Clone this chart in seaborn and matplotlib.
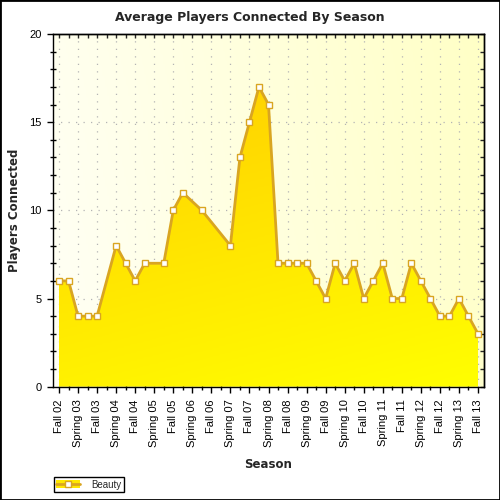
import numpy as np
import seaborn as sns
import matplotlib.pyplot as plt
from matplotlib.colors import LinearSegmentedColormap
from matplotlib.patches import Patch, Rectangle
from matplotlib.lines import Line2D
from matplotlib.ticker import MultipleLocator

# Season labels on the x axis
seasons = ["Fall 02", "Spring 03", "Fall 03", "Spring 04", "Fall 04", "Spring 05",
           "Fall 05", "Spring 06", "Fall 06", "Spring 07", "Fall 07", "Spring 08",
           "Fall 08", "Spring 09", "Fall 09", "Spring 10", "Fall 10", "Spring 11",
           "Fall 11", "Spring 12", "Fall 12", "Spring 13", "Fall 13"]

# position of each sample in season units (x.5 = between two seasons)
term = [0, 0.5, 1, 1.5, 2, 3, 3.5, 4, 4.5, 5.5, 6, 6.5, 7.5, 9, 9.5, 10, 10.5,
        11, 11.5, 12, 12.5, 13, 13.5, 14, 14.5, 15, 15.5, 16, 16.5, 17, 17.5,
        18, 18.5, 19, 19.5, 20, 20.5, 21, 21.5, 22]
players = [6, 6, 4, 4, 4, 8, 7, 6, 7, 7, 10, 11, 10, 8, 13, 15, 17, 16,
           7, 7, 7, 7, 6, 5, 7, 6, 7, 5, 6, 7, 5, 5, 7, 6, 5, 4, 4, 5, 4, 3]

line_col = "#D9A521"

sns.set_style("ticks")
plt.rcParams['font.family'] = ['Liberation Sans', 'DejaVu Sans']

fig = plt.figure(figsize=(5, 5), dpi=100)
ax = fig.add_axes([53 / 500, 1 - 386.7 / 500, 431 / 500, 352.7 / 500])

xmin, xmax = -0.315, len(seasons) - 1 + 0.315
ymin, ymax = 0, 20

# plot background gradient (white-ish left -> pale yellow right)
gx, gy = np.meshgrid(np.linspace(0, 1, 200), np.linspace(0, 1, 200))
bg_cmap = LinearSegmentedColormap.from_list("bg", ["#FFFFF6", "#FFFFC6"])
ax.imshow(0.85 * gx + 0.15 * gy, extent=[xmin, xmax, ymin, ymax], origin="lower",
          aspect="auto", cmap=bg_cmap, vmin=0, vmax=1, zorder=0)

# area fill with gradient, clipped to the area under the line
poly = ax.fill_between(term, players, 0, facecolor="none", edgecolor="none", zorder=1)
fill_cmap = LinearSegmentedColormap.from_list("fill", ["#FFFF00", "#FFD200"])
fv = np.clip(0.8 * gy / 0.85 + 0.3 * (1 - gx), 0, 1)
im = ax.imshow(fv, extent=[xmin, xmax, ymin, ymax], origin="lower", aspect="auto",
               cmap=fill_cmap, vmin=0, vmax=1, zorder=1)
im.set_clip_path(poly.get_paths()[0], transform=ax.transData)

sns.lineplot(x=term, y=players, ax=ax, color=line_col, linewidth=2, marker="s",
             markersize=5, markerfacecolor="white", markeredgecolor=line_col,
             markeredgewidth=1, zorder=3)

ax.set_xlim(xmin, xmax)
ax.set_ylim(ymin, ymax)

ax.set_xticks(range(len(seasons)))
ax.set_xticklabels(seasons, rotation=90)
ax.xaxis.set_minor_locator(MultipleLocator(0.5))
ax.yaxis.set_major_locator(MultipleLocator(5))
ax.yaxis.set_minor_locator(MultipleLocator(1))
ax.tick_params(which="major", direction="out", length=4, width=1, color="black",
               labelsize=8, labelcolor="black")
ax.tick_params(which="minor", direction="inout", length=4, width=1, color="black")
ax.tick_params(axis="x", which="major", pad=5)
ax.tick_params(axis="y", which="major", pad=4)

top = ax.secondary_xaxis("top")
top.set_xticks(range(len(seasons)))
top.xaxis.set_minor_locator(MultipleLocator(0.5))
top.tick_params(which="both", direction="in", length=3, width=1, labeltop=False)
right = ax.secondary_yaxis("right")
right.yaxis.set_major_locator(MultipleLocator(5))
right.yaxis.set_minor_locator(MultipleLocator(1))
right.tick_params(which="both", direction="in", length=3, width=1, labelright=False)

for a in (ax, top, right):
    for s in a.spines.values():
        s.set_color("black")
        s.set_linewidth(1)

ax.set_axisbelow(True)
ax.grid(True, which="major", color="#B4B4B4", linestyle=(0, (1, 5)), linewidth=0.9)

ax.set_xlabel("Season", fontsize=8.5, fontweight="bold", family="DejaVu Sans", va="center")
ax.xaxis.set_label_coords(0.5, (386.7 - 464) / 352.7)
ax.set_ylabel("Players Connected", fontsize=8.5, fontweight="bold", family="DejaVu Sans",
              va="center")
ax.yaxis.set_label_coords((15 - 53) / 431, 0.5)

fig.text(0.5, 1 - 18 / 500, "Average Players Connected By Season", ha="center",
         va="center", fontsize=9, fontweight="bold", family="DejaVu Sans")

swatch = Patch(facecolor="#FFE800", edgecolor="none")
mark = Line2D([], [], color=line_col, linewidth=2, marker="s", markersize=5,
              markerfacecolor="white", markeredgecolor=line_col)
leg = fig.legend(handles=[(swatch, mark)], labels=["Beauty"], loc="lower left",
                 bbox_to_anchor=(54 / 500, 1 - 492 / 500), frameon=True, fancybox=False,
                 edgecolor="black", framealpha=1, fontsize=7, handlelength=2.4,
                 handleheight=0.8, borderpad=0.25, borderaxespad=0, handletextpad=1.2)
leg.get_frame().set_linewidth(1)

fig.patches.append(Rectangle((0, 0), 1, 1, transform=fig.transFigure, fill=False,
                             edgecolor="black", linewidth=2))

fig.savefig("out.png", dpi=100)
